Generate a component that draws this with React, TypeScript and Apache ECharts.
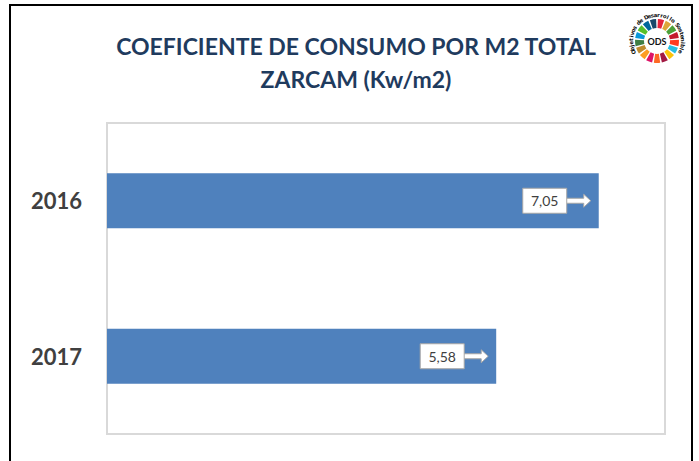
import React, { useEffect, useRef } from "react";
import * as echarts from "echarts";

const categories = ["2016", "2017"];
const values = [7.05, 5.58];
const titleLines = ["COEFICIENTE DE CONSUMO POR M2 TOTAL", "ZARCAM (Kw/m2)"];
const sdgColors = [
  "#E5243B", "#DDA63A", "#4C9F38", "#C5192D", "#FF3A21", "#26BDE2",
  "#FCC30B", "#A21942", "#FD6925", "#DD1367", "#FD9D24", "#BF8B2E",
  "#3F7E44", "#0A97D9", "#56C02B", "#00689D", "#19486A",
];
const logoText = "Objetivos de Desarrollo Sostenible";

function fmt(v: number) {
  return v.toFixed(2).replace(".", ",");
}

function buildLogo() {
  const cx = 657;
  const cy = 41;
  const children: any[] = [];
  const n = sdgColors.length;
  const step = (Math.PI * 2) / n;
  sdgColors.forEach((c, i) => {
    const start = -Math.PI / 2 + i * step + 0.04;
    const end = start + step - 0.08;
    children.push({
      type: "sector",
      shape: { cx, cy, r0: 13, r: 22, startAngle: start, endAngle: end, clockwise: true },
      style: { fill: c },
      silent: true,
    });
  });
  children.push({
    type: "text",
    style: {
      text: "ODS",
      x: cx,
      y: cy,
      align: "center",
      verticalAlign: "middle",
      font: "bold 9px Lato, 'Noto Sans', sans-serif",
      fill: "#111",
    },
  });
  const R = 26;
  const a0 = (205 * Math.PI) / 180;
  const a1 = (-25 * Math.PI) / 180;
  const chars = logoText.split("");
  chars.forEach((ch, i) => {
    const t = a0 + ((a1 - a0) * i) / (chars.length - 1);
    children.push({
      type: "text",
      x: cx + R * Math.cos(t),
      y: cy - R * Math.sin(t),
      rotation: t - Math.PI / 2,
      style: {
        text: ch,
        x: 0,
        y: 0,
        align: "center",
        verticalAlign: "middle",
        font: "bold 5.5px 'DejaVu Sans', sans-serif",
        fill: "#111",
      },
    });
  });
  return { type: "group", children };
}

export default function App() {
  const ref = useRef<HTMLDivElement>(null);
  useEffect(() => {
    if (!ref.current) return;
    const chart = echarts.init(ref.current, undefined, { renderer: "svg" });
    const option: any = {
      animation: false,
      backgroundColor: "#ffffff",
      title: {
        text: titleLines.join("\n"),
        left: 351,
        textAlign: "center",
        top: 24,
        textStyle: {
          fontFamily: "Lato, 'Open Sans', sans-serif",
          fontWeight: "bold",
          fontSize: 23,
          color: "#1F3B5E",
          lineHeight: 33,
        },
      },
      grid: {
        left: 107,
        top: 123,
        width: 558,
        height: 311,
        show: true,
        borderColor: "#d9d9d9",
        borderWidth: 2,
        backgroundColor: "transparent",
      },
      xAxis: {
        type: "value",
        min: 0,
        max: 8,
        show: false,
        splitLine: { show: false },
      },
      yAxis: {
        type: "category",
        inverse: true,
        data: categories,
        axisLine: { show: false },
        axisTick: { show: false },
        axisLabel: {
          margin: 25,
          fontFamily: "Lato, 'Open Sans', sans-serif",
          fontWeight: "bold",
          fontSize: 22,
          color: "#404040",
        },
      },
      graphic: [
        {
          type: "rect",
          shape: { x: 10, y: 5, width: 682, height: 520 },
          style: { fill: "none", stroke: "#000", lineWidth: 2 },
          silent: true,
          z: 100,
        },
        buildLogo(),
      ],
      series: [
        {
          type: "bar",
          data: values,
          barWidth: 55,
          itemStyle: { color: "#4F81BD" },
        },
        {
          type: "custom",
          z: 10,
          data: values.map((v, i) => [v, i]),
          renderItem: (params: any, api: any) => {
            const v = api.value(0);
            const p = api.coord([v, api.value(1)]);
            const x = p[0];
            const y = p[1];
            return {
              type: "group",
              children: [
                {
                  type: "polygon",
                  shape: {
                    points: [
                      [x - 33, y - 2.5],
                      [x - 15, y - 2.5],
                      [x - 15, y - 6.5],
                      [x - 8, y],
                      [x - 15, y + 6.5],
                      [x - 15, y + 2.5],
                      [x - 33, y + 2.5],
                    ],
                  },
                  style: { fill: "#ffffff", stroke: "#a6a6a6", lineWidth: 1 },
                },
                {
                  type: "rect",
                  shape: { x: x - 76, y: y - 12.5, width: 44, height: 25 },
                  style: { fill: "#ffffff", stroke: "#a6a6a6", lineWidth: 1 },
                },
                {
                  type: "text",
                  style: {
                    text: fmt(v),
                    x: x - 54,
                    y: y,
                    align: "center",
                    verticalAlign: "middle",
                    font: "14px Lato, 'Open Sans', sans-serif",
                    fill: "#404040",
                  },
                },
              ],
            };
          },
        },
      ],
    };
    chart.setOption(option);
    return () => chart.dispose();
  }, []);
  return (
    <div
      ref={ref}
      style={{ position: "absolute", left: 0, top: 0, width: 699, height: 461 }}
    />
  );
}
